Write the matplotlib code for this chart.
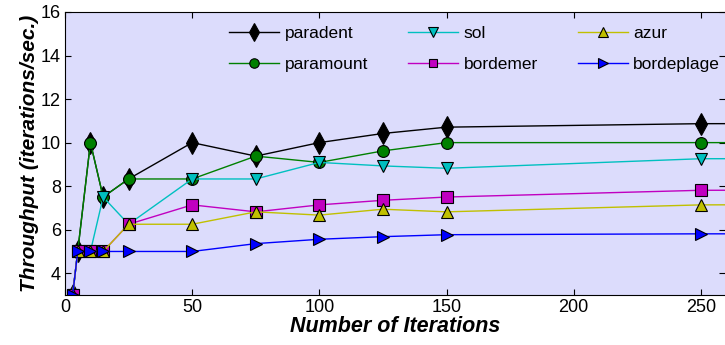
import matplotlib
matplotlib.use("Agg")
import matplotlib.pyplot as plt

plt.rcParams['font.family'] = ['Liberation Sans', 'DejaVu Sans']

iterations = [3, 5, 10, 15, 25, 50, 75, 100, 125, 150, 250, 500]

paradent = [3, 5, 10, 7.5, 8.33, 10, 9.38, 10, 10.42, 10.71, 10.87, 10.9]
paramount = [3, 5, 10, 7.5, 8.33, 8.33, 9.38, 9.09, 9.62, 10, 10, 10]
sol = [3, 5, 5, 7.5, 6.25, 8.33, 8.33, 9.09, 8.93, 8.82, 9.26, 9.3]
azur = [3, 5, 5, 5, 6.25, 6.25, 6.82, 6.67, 6.94, 6.82, 7.14, 7.2]
bordemer = [3, 5, 5, 5, 6.25, 7.14, 6.82, 7.14, 7.35, 7.5, 7.81, 7.85]
bordeplage = [3, 5, 5, 5, 5, 5, 5.36, 5.56, 5.68, 5.77, 5.81, 5.81]

# name, values, colour, marker, size  (plot order = stacking order)
series = [
    ('paradent', paradent, 'black', 'd', 11),
    ('paramount', paramount, '#008000', 'o', 8.5),
    ('sol', sol, '#00c0c0', 'v', 8.5),
    ('bordemer', bordemer, '#c000c0', 's', 8),
    ('azur', azur, '#c0c000', '^', 8.5),
    ('bordeplage', bordeplage, 'blue', '>', 8.5),
]

fig = plt.figure(figsize=(7.25, 3.45), dpi=100)
ax = fig.add_axes([65 / 725, 50 / 345, 1 - 65 / 725, 283 / 345])
ax.set_facecolor('#dcdcfc')

lines = {}
for name, vals, col, mk, ms in series:
    lines[name], = ax.plot(iterations, vals, color=col, lw=1, marker=mk, markersize=ms,
                           markerfacecolor=col, markeredgecolor='black',
                           markeredgewidth=0.8, label=name)

leg_order = ['paradent', 'paramount', 'sol', 'bordemer', 'azur', 'bordeplage']
ax.legend([lines[n] for n in leg_order], leg_order, ncol=3, loc='upper left',
          bbox_to_anchor=(0.225, 1.005), frameon=False, fontsize=12.5,
          handlelength=2.9, columnspacing=2.3, labelspacing=0.9,
          handletextpad=0.3, markerscale=0.8)

ax.set_xlim(0, 259.5)
ax.set_ylim(3, 16)
ax.set_xticks([0, 50, 100, 150, 200, 250])
ax.set_yticks([4, 6, 8, 10, 12, 14, 16])
ax.tick_params(direction='in', top=True, right=True, labelsize=13, length=4, pad=3)
ax.set_xlabel('Number of Iterations', fontsize=15.5, fontweight='bold',
              fontstyle='italic', labelpad=0)
ax.set_ylabel('Throughput (iterations/sec.)', fontsize=15, fontweight='bold',
              fontstyle='italic', labelpad=1)
ax.spines['right'].set_visible(False)

fig.savefig('out.png', dpi=100)
